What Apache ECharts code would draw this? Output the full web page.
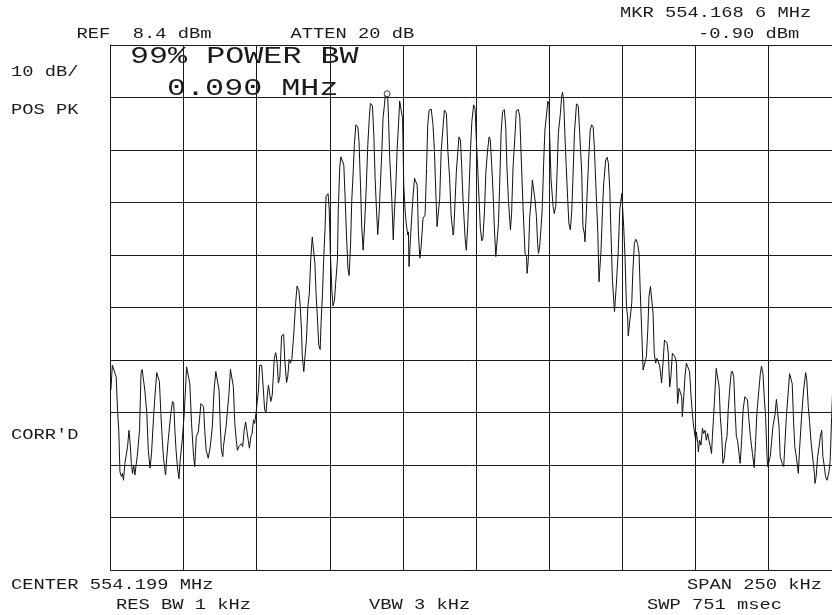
<!DOCTYPE html>
<html>
<head>
<meta charset="utf-8">
<script src="https://cdn.jsdelivr.net/npm/echarts@6/dist/echarts.min.js"></script>
<style>
html,body{margin:0;padding:0;background:#fff}
#chart{width:832px;height:615px}
</style>
</head>
<body>
<div id="chart"></div>
<script>
// Sweep settings
const centerMHz = 554.199;
const spanKHz = 250;
const refLevelDbm = 8.4;
const dbPerDiv = 10;
const divisions = 10;

// Marker readout
const markerMHz = 554.1686;
const markerDbm = -0.90;

// Annotation strings
const headerLabels = ['REF  8.4 dBm', 'ATTEN 20 dB', 'MKR 554.168 6 MHz', '-0.90 dBm'];
const sideLabels = ['10 dB/', 'POS PK', "CORR'D"];
const bwLabels = ['99% POWER BW', '0.090 MHz'];
const footerLabels = ['CENTER 554.199 MHz', 'SPAN 250 kHz', 'RES BW 1 kHz', 'VBW 3 kHz', 'SWP 751 msec'];

// Trace vertices: [offset from center (kHz), level (dBm)]
const trace = [
  [-124.9,-57.3],[-124.4,-52.6],[-123.8,-52.4],[-123.1,-54.8],[-122.6,-61.5],[-122.2,-65.0],[-121.8,-72.9],[-121.3,-73.8],
  [-120.9,-73.2],[-120.6,-74.5],[-120.1,-71.3],[-119.7,-71.3],[-119.2,-68.1],[-118.7,-65.0],[-118.3,-67.5],[-117.9,-71.3],
  [-117.5,-73.2],[-117.1,-71.6],[-116.7,-73.5],[-116.2,-73.2],[-115.9,-70.0],[-115.6,-69.7],[-115.1,-65.0],[-114.6,-54.2],
  [-114.2,-53.4],[-113.7,-53.2],[-113.3,-57.3],[-112.6,-61.8],[-112.1,-68.8],[-111.5,-72.2],[-111.0,-69.4],[-110.3,-62.4],
  [-109.6,-56.7],[-109.2,-54.0],[-108.7,-54.0],[-108.3,-55.7],[-107.8,-61.8],[-107.3,-66.9],[-106.9,-70.3],[-106.2,-73.5],
  [-105.8,-70.3],[-105.3,-66.9],[-104.4,-61.8],[-103.8,-59.5],[-103.4,-59.9],[-103.0,-65.0],[-102.6,-68.8],[-102.1,-72.2],
  [-101.6,-74.2],[-101.2,-70.7],[-100.5,-66.9],[-99.8,-61.8],[-99.0,-52.9],[-98.5,-52.8],[-97.9,-56.1],[-97.3,-63.7],
  [-96.6,-70.0],[-96.2,-71.9],[-95.7,-66.2],[-95.0,-65.3],[-94.6,-63.0],[-94.1,-59.9],[-93.8,-59.7],[-93.2,-60.5],
  [-92.8,-65.0],[-92.3,-68.8],[-91.6,-70.3],[-90.9,-68.1],[-90.2,-64.3],[-89.6,-57.3],[-89.0,-53.8],[-88.4,-54.0],
  [-87.9,-57.3],[-87.5,-63.7],[-87.1,-68.8],[-86.6,-70.0],[-86.4,-68.1],[-85.9,-68.1],[-85.5,-64.3],[-84.5,-58.0],
  [-84.0,-53.4],[-83.4,-53.5],[-83.0,-56.7],[-82.5,-63.7],[-82.0,-66.9],[-81.6,-68.8],[-81.1,-68.1],[-80.7,-68.1],
  [-80.2,-67.5],[-79.8,-68.1],[-79.3,-65.0],[-78.8,-63.4],[-78.4,-65.0],[-77.9,-66.9],[-77.5,-68.4],[-77.0,-66.2],
  [-76.6,-65.6],[-76.1,-63.0],[-75.7,-63.7],[-75.2,-61.5],
  [-74.85,-61.8],[-74.4,-57.3],[-74.0,-52.6],[-73.3,-52.6],[-72.8,-56.7],[-72.3,-61.1],[-71.8,-61.6],[-71.4,-58.6],
  [-71.0,-56.4],[-70.5,-56.4],[-70.2,-59.5],[-69.7,-58.3],[-69.0,-51.3],[-68.5,-50.2],[-68.0,-52.2],[-67.6,-56.0],
  [-67.1,-54.8],[-66.5,-47.0],[-65.8,-46.7],[-65.4,-51.6],[-64.8,-55.9],[-64.4,-54.8],[-63.9,-51.5],[-63.5,-52.2],
  [-63.0,-51.5],[-62.4,-47.2],[-61.7,-40.8],[-61.2,-37.5],[-60.6,-38.4],[-60.1,-41.4],[-59.7,-45.9],[-59.4,-51.0],
  [-58.9,-53.8],[-58.4,-50.3],[-58.0,-47.8],[-57.5,-41.4],[-57.0,-38.9],[-56.5,-32.2],[-56.0,-28.2],[-55.5,-28.5],
  [-55.1,-33.2],[-54.7,-38.9],[-54.2,-44.0],[-53.8,-48.7],[-53.3,-49.6],[-53.0,-44.6],[-52.5,-38.9],[-52.1,-32.5],
  [-51.6,-26.2],[-51.3,-20.4],[-50.6,-19.9],[-50.2,-23.0],[-49.8,-31.3],[-49.3,-38.3],[-48.9,-41.3],[-48.4,-40.2],
  [-48.0,-37.0],[-47.4,-32.6],[-47.1,-23.0],[-46.6,-14.8],[-46.2,-12.9],[-45.7,-12.9],
  [-45.2,-14.5],[-44.8,-20.2],[-44.3,-27.8],[-43.8,-34.1],[-43.4,-35.5],[-42.9,-29.7],[-42.5,-21.4],[-42.0,-15.7],
  [-41.6,-10.6],[-41.1,-6.8],[-40.4,-7.2],[-40.0,-10.0],[-39.5,-18.3],[-39.1,-25.9],[-38.6,-30.7],[-38.1,-25.9],
  [-37.5,-18.3],[-37.0,-10.6],[-36.5,-5.6],[-36.1,-2.7],[-35.4,-3.2],[-34.9,-9.4],[-34.5,-17.0],[-34.0,-23.4],
  [-33.6,-27.7],[-33.1,-23.4],[-32.7,-18.3],[-32.2,-11.9],[-31.8,-5.6],[-31.3,-3.0],[-31.0,-1.1],[-30.4,-0.9],
  [-30.2,-1.4],[-29.9,-5.6],[-29.5,-13.2],[-28.8,-20.8],[-28.3,-28.7],[-27.9,-23.4],[-27.4,-18.3],[-27.0,-11.9],
  [-26.5,-6.8],[-26.1,-2.3],[-25.6,-2.4],[-25.1,-5.6],[-24.7,-18.3],[-24.2,-23.4],[-23.8,-25.9],[-23.3,-27.8],
  [-23.1,-27.2],[-22.9,-33.8],[-22.4,-28.4],[-22.0,-24.6],[-21.5,-20.2],[-21.0,-17.0],[-20.6,-16.7],[-20.1,-18.3],
  [-19.9,-22.7],[-19.7,-27.2],[-19.2,-32.2],[-18.8,-30.3],[-18.1,-24.6],[-17.4,-24.0],[-16.9,-15.1],[-16.5,-6.8],
  [-16.0,-4.0],[-15.3,-3.8],[-14.7,-6.8],[-14.2,-11.9],[-13.7,-20.2],[-13.3,-26.2],[-12.8,-25.9],[-12.4,-20.8],
  [-11.9,-11.9],[-11.2,-6.8],[-10.8,-4.0],[-10.1,-4.6],[-9.6,-11.9],[-9.0,-17.0],[-8.5,-24.0],[-7.8,-27.8],
  [-7.6,-27.2],[-7.1,-20.8],[-6.7,-15.7],[-6.2,-11.9],[-5.8,-9.1],[-5.3,-9.7],[-4.9,-14.5],[-4.4,-21.4],
  [-3.7,-28.4],[-3.3,-30.7],[-2.8,-25.9],[-2.3,-18.3],[-1.9,-11.9],[-1.4,-6.2],[-0.8,-3.0],[-0.3,-3.7],
  [0.2,-10.6],[0.6,-15.1],[1.1,-21.4],[1.5,-26.5],[2.0,-28.9],[2.4,-28.4],[2.9,-23.4],[3.4,-15.7],
  [4.0,-11.6],[4.5,-9.1],[4.9,-9.7],[5.4,-14.5],[5.9,-20.2],[6.3,-26.5],[6.8,-31.9],[7.2,-32.2],
  [7.7,-25.6],[8.1,-18.6],[8.6,-8.4],[9.1,-4.3],[9.7,-3.9],[10.2,-7.2],[10.6,-14.8],[11.1,-21.1],
  [11.8,-26.8],[12.2,-23.7],[12.7,-14.8],[13.4,-8.4],[13.8,-4.1],[14.5,-3.9],[15.0,-5.3],[15.4,-11.6],
  [16.1,-22.4],[16.8,-31.3],[17.3,-31.9],[17.5,-35.1],[17.9,-32.6],[18.4,-24.3],[18.9,-21.1],[19.3,-17.3],
  [19.8,-17.0],[20.2,-21.1],[20.7,-24.3],[21.1,-29.4],[21.4,-31.3],[21.8,-30.0],[22.3,-26.2],[22.7,-22.4],
  [23.2,-13.5],[23.6,-7.8],[24.3,-4.0],[24.6,-2.3],[25.0,-3.0],[25.2,-8.4],[25.7,-17.3],[26.4,-22.4],
  [26.8,-23.7],[27.3,-22.4],[27.7,-16.7],[28.2,-8.4],[28.9,-4.6],[29.3,-1.5],[29.6,-0.6],[30.0,-2.0],
  [30.5,-9.7],[30.9,-14.8],[31.4,-21.1],[31.8,-25.6],[32.3,-26.8],[32.8,-23.0],[33.2,-16.7],[33.7,-8.4],
  [34.4,-2.8],[35.0,-3.2],[35.5,-8.4],[36.2,-16.0],[36.6,-26.2],[37.1,-27.5],[37.3,-29.1],[37.8,-23.0],
  [38.5,-14.1],[39.1,-7.8],[39.6,-6.8],[40.1,-7.2],[40.5,-11.0],[41.0,-18.0],[41.7,-27.5],[42.1,-36.7],
  [42.8,-30.7],[43.3,-23.0],[43.7,-18.0],[44.4,-13.5],[44.9,-13.0],[45.3,-14.1],[45.8,-19.2],[46.2,-27.5],
  [46.7,-36.4],[47.4,-42.4],[48.0,-37.6],[48.7,-30.7],[49.2,-23.0],[49.9,-19.9],[50.1,-19.9],[50.55,-26.2],
  [51.0,-31.9],[51.5,-41.4],[51.9,-43.4],[52.1,-47.0],[52.6,-47.0],
  [53.3,-40.8],[53.7,-34.5],[54.2,-29.4],[54.7,-28.6],[55.3,-29.4],[55.8,-31.3],[56.2,-38.3],[56.7,-45.9],
  [57.2,-53.5],[57.6,-53.2],[57.8,-53.6],[58.3,-51.0],[58.8,-45.9],[59.2,-39.5],[59.7,-37.6],[60.1,-37.9],
  [60.6,-42.7],[61.0,-50.3],[61.5,-52.2],[61.9,-51.3],[62.4,-51.9],[62.9,-52.9],[63.3,-54.8],[63.5,-56.0],
  [64.0,-52.2],[64.5,-47.8],[64.9,-47.5],[65.4,-48.4],[65.8,-50.3],[66.3,-56.7],[66.7,-54.8],[67.2,-50.3],
  [67.6,-50.2],[68.1,-51.0],[68.6,-52.2],[69.0,-59.9],[69.5,-57.0],[69.9,-56.7],[70.4,-58.6],[70.6,-62.4],
  [71.1,-58.6],[71.5,-54.8],[72.0,-52.2],[72.4,-52.1],
  [73.1,-53.8],[73.6,-58.6],[74.0,-61.5],[74.5,-64.4],[74.7,-64.6],[75.2,-66.9],[75.4,-65.3],[75.9,-67.5],
  [76.1,-69.1],[76.5,-66.9],[77.0,-67.8],[77.5,-64.6],[77.9,-65.6],[78.4,-65.0],[78.8,-66.9],[79.3,-65.6],
  [79.7,-66.9],[80.2,-68.1],[80.6,-69.4],[80.9,-66.2],[81.3,-62.4],[81.8,-57.3],[82.2,-53.2],[82.7,-53.5],
  [83.2,-56.7],[83.6,-62.4],[84.1,-66.2],[84.5,-71.3],[85.0,-70.3],[85.4,-67.5],[85.9,-66.2],[86.3,-61.1],
  [86.8,-57.3],[87.3,-54.2],[87.7,-53.7],[88.2,-54.8],[88.6,-60.5],[89.1,-66.2],[89.5,-66.9],[90.0,-69.4],
  [90.4,-71.3],[90.9,-66.9],[91.4,-61.1],[92.0,-58.6],[92.5,-58.5],[92.9,-59.2],[93.4,-63.0],[93.9,-66.2],
  [94.6,-69.4],[95.2,-72.1],[95.7,-66.9],[96.1,-61.8],[96.8,-57.3],[97.3,-54.2],[97.7,-52.8],[98.2,-54.2],
  [98.7,-59.2],[99.1,-62.4],[99.6,-70.0],[99.8,-71.9],[100.3,-72.2],[100.7,-70.0],[101.2,-66.9],[101.6,-64.3],
  [102.3,-62.1],[102.8,-59.1],[103.2,-59.2],[103.7,-64.3],[104.1,-70.0],[104.8,-71.3],[105.3,-71.9],[105.7,-71.6],
  [106.2,-62.4],[106.9,-57.3],[107.3,-54.2],[107.8,-54.2],[108.2,-56.1],[108.7,-63.7],[109.1,-68.1],[109.6,-70.0],
  [110.3,-73.2],[110.7,-68.8],[111.4,-62.4],[112.1,-57.3],[112.8,-54.0],[113.2,-55.4],[113.7,-60.5],[114.2,-63.7],
  [114.6,-66.9],[115.3,-70.7],[115.8,-73.2],[116.0,-75.1],[116.4,-73.8],[116.9,-70.0],[117.4,-68.1],[117.8,-66.2],
  [118.3,-65.0],[118.7,-70.0],[119.2,-71.9],[119.6,-73.8],[120.1,-74.5],[120.8,-72.9],[121.2,-70.7],[121.7,-62.4],
  [122.3,-53.5]
];

const markerOffsetKHz = Math.round((markerMHz - centerMHz) * 10000) / 10;

const INK = '#1a1a1a';
const FONT = '"Liberation Mono", "DejaVu Sans Mono", monospace';

function label(text, x, y, size, stretch) {
  return {
    type: 'text',
    x: x,
    y: y,
    scaleX: stretch,
    z: 20,
    silent: true,
    style: {
      text: text,
      fontFamily: FONT,
      fontSize: size,
      fill: INK,
      align: 'left',
      verticalAlign: 'middle'
    }
  };
}

const SMALL = 15, SMALL_SX = 1.25;
const BIG = 23, BIG_SX = 1.38;

const chart = echarts.init(document.getElementById('chart'), null, { renderer: 'canvas' });

chart.setOption({
  animation: false,
  backgroundColor: '#ffffff',
  // the graticule runs a little past the right edge of the page
  grid: { left: 110.6, top: 45, width: 730.7, height: 525, containLabel: false, outerBoundsMode: 'none' },
  xAxis: {
    type: 'value',
    min: -spanKHz / 2,
    max: spanKHz / 2,
    interval: spanKHz / divisions,
    axisLine: { show: true, onZero: false, lineStyle: { color: INK, width: 1 } },
    axisTick: { show: false },
    axisLabel: { show: false },
    splitLine: { show: true, lineStyle: { color: INK, width: 1 } }
  },
  yAxis: [
    {
      // level scale for the trace
      type: 'value',
      min: refLevelDbm - dbPerDiv * divisions,
      max: refLevelDbm,
      show: false
    },
    {
      // graticule: one line per division
      type: 'value',
      min: 0,
      max: divisions,
      interval: 1,
      position: 'left',
      axisLine: { show: true, onZero: false, lineStyle: { color: INK, width: 1 } },
      axisTick: { show: false },
      axisLabel: { show: false },
      splitLine: { show: true, lineStyle: { color: INK, width: 1 } }
    }
  ],
  series: [
    {
      type: 'line',
      yAxisIndex: 0,
      data: trace,
      showSymbol: false,
      symbol: 'none',
      silent: true,
      lineStyle: { color: '#111', width: 1 },
      z: 5
    },
    {
      type: 'scatter',
      yAxisIndex: 0,
      data: [[markerOffsetKHz, markerDbm]],
      symbol: 'circle',
      symbolSize: 6,
      silent: true,
      itemStyle: { color: '#ffffff', borderColor: '#111', borderWidth: 1 },
      z: 6
    }
  ],
  graphic: [
    label(headerLabels[0], 76.5, 34.5, SMALL, SMALL_SX),
    label(headerLabels[1], 290.5, 34.5, SMALL, SMALL_SX),
    label(headerLabels[2], 620, 13.5, SMALL, SMALL_SX),
    label(headerLabels[3], 698, 34.5, SMALL, SMALL_SX),
    label(sideLabels[0], 11, 72, SMALL, SMALL_SX),
    label(sideLabels[1], 11, 110.5, SMALL, SMALL_SX),
    label(sideLabels[2], 11, 435, SMALL, SMALL_SX),
    label(bwLabels[0], 130, 56.5, BIG, BIG_SX),
    label(bwLabels[1], 167, 88.5, BIG, BIG_SX),
    label(footerLabels[0], 11, 585, SMALL, SMALL_SX),
    label(footerLabels[1], 687, 585, SMALL, SMALL_SX),
    label(footerLabels[2], 116, 605.5, SMALL, SMALL_SX),
    label(footerLabels[3], 369, 605.5, SMALL, SMALL_SX),
    label(footerLabels[4], 647, 605.5, SMALL, SMALL_SX)
  ]
});
</script>
</body>
</html>
